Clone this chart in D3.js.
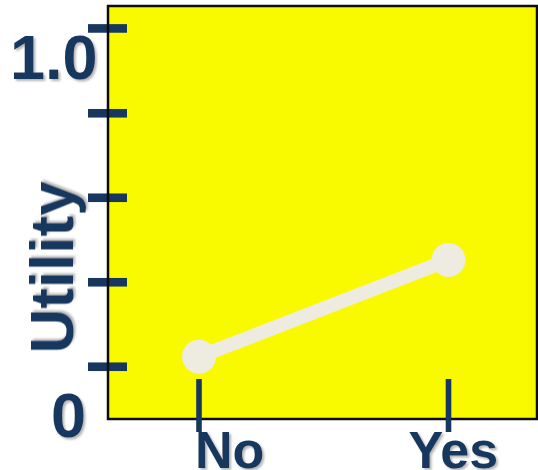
<!DOCTYPE html>
<html>
<head>
<meta charset="utf-8">
<script src="https://cdn.jsdelivr.net/npm/d3@7"></script>
<style>
  html, body { margin: 0; padding: 0; background: #ffffff; }
  svg { display: block; }
</style>
</head>
<body>
<svg id="chart" width="538" height="470"></svg>
<script>
// ---- data ----
const categories = ["No", "Yes"];
const utility = [0.16, 0.43];
const yTickValues = [0.132, 0.368, 0.604, 0.84, 1.077];
const yLabelValues = [0, 1];
const yLabelTexts = ["0", "1.0"];
const yAxisTitle = "Utility";

// ---- layout ----
const W = 538, H = 470;
const box = { left: 108, top: 6, right: 537, bottom: 419 };
const navy = "#17375E";
const plotFill = "#F9F900";
const markColor = "#EEECE1";
const font = "'Liberation Sans', Arial, Helvetica, sans-serif";

const svg = d3.select("#chart");

// soft shadow behind the labels
const defs = svg.append("defs");
const shadow = defs.append("filter").attr("id", "textShadow")
  .attr("x", "-20%").attr("y", "-20%").attr("width", "140%").attr("height", "140%");
shadow.append("feDropShadow")
  .attr("dx", 2).attr("dy", 2).attr("stdDeviation", 1.3)
  .attr("flood-color", "#7a7a7a").attr("flood-opacity", 0.55);

const x = d3.scalePoint().domain(categories).range([199, 448.5]).padding(0);
const y = d3.scaleLinear().domain([0, 1]).range([414, 56]);

// plot background
svg.append("rect")
  .attr("x", box.left).attr("y", box.top)
  .attr("width", box.right - box.left).attr("height", box.bottom - box.top)
  .attr("fill", plotFill);

// y tick marks (cross the left frame edge)
const yTickLen = { from: 88, to: 127 };
svg.append("g").selectAll("rect")
  .data(yTickValues)
  .join("rect")
  .attr("x", yTickLen.from)
  .attr("y", d => y(d) - 4.3)
  .attr("width", yTickLen.to - yTickLen.from)
  .attr("height", 8.6)
  .attr("fill", navy);

// frame
svg.append("rect")
  .attr("x", box.left).attr("y", box.top)
  .attr("width", box.right - box.left).attr("height", box.bottom - box.top)
  .attr("fill", "none")
  .attr("stroke", "#0d0d0d")
  .attr("stroke-width", 2.5);

// utility line and points
const pts = categories.map((c, i) => [x(c), y(utility[i])]);
svg.append("path")
  .attr("d", d3.line()(pts))
  .attr("fill", "none")
  .attr("stroke", markColor)
  .attr("stroke-width", 14);

svg.append("g").selectAll("circle")
  .data(categories)
  .join("circle")
  .attr("cx", d => x(d))
  .attr("cy", (d, i) => y(utility[i]))
  .attr("r", 17)
  .attr("fill", markColor);

// x tick marks
svg.append("g").selectAll("rect")
  .data(categories)
  .join("rect")
  .attr("x", d => x(d) - 2.8)
  .attr("y", 379)
  .attr("width", 5.6)
  .attr("height", 53)
  .attr("fill", navy);

// x labels
const xLabelShift = { "No": -4, "Yes": -40 };
svg.append("g").selectAll("text")
  .data(categories)
  .join("text")
  .attr("x", d => x(d) + xLabelShift[d])
  .attr("y", 468)
  .attr("text-anchor", "start")
  .attr("font-family", font)
  .attr("font-weight", "bold")
  .attr("font-size", 52)
  .attr("fill", navy)
  .attr("filter", "url(#textShadow)")
  .text(d => d);

// y labels
const yLabelStart = { "0": 51, "1.0": 10 };
svg.append("g").selectAll("text")
  .data(yLabelValues)
  .join("text")
  .attr("x", (d, i) => yLabelStart[yLabelTexts[i]])
  .attr("y", d => y(d) + 23)
  .attr("text-anchor", "start")
  .attr("font-family", font)
  .attr("font-weight", "bold")
  .attr("font-size", 63)
  .attr("fill", navy)
  .attr("filter", "url(#textShadow)")
  .text((d, i) => yLabelTexts[i]);

// y axis title
svg.append("text")
  .attr("transform", "translate(73,267.5) rotate(-90)")
  .attr("text-anchor", "middle")
  .attr("font-family", font)
  .attr("font-weight", "bold")
  .attr("font-size", 62)
  .attr("fill", navy)
  .attr("filter", "url(#textShadow)")
  .text(yAxisTitle);
</script>
</body>
</html>
